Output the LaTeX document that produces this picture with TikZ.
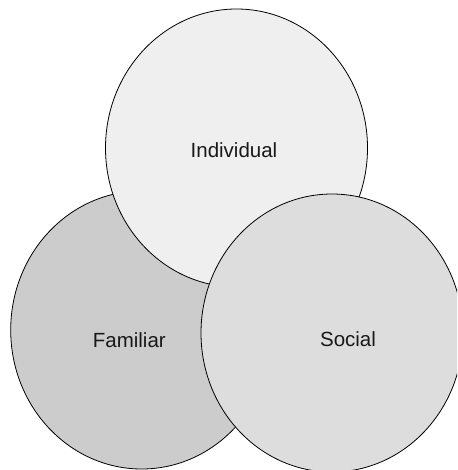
\documentclass[tikz,border=0pt]{standalone}
\usepackage{fontspec}
\setmainfont{Liberation Sans}
\usetikzlibrary{shapes.geometric}
\definecolor{indfill}{HTML}{EFEFEF}
\definecolor{famfill}{HTML}{CCCCCC}
\definecolor{socfill}{HTML}{DDDDDD}
\tikzset{
  sphere/.style={ellipse, draw=black, line width=0.8pt, inner sep=0pt,
                 minimum width=262pt, minimum height=278pt},
  caption/.style={anchor=base, font=\fontsize{20.5}{24}\selectfont, text=black!90}
}
\begin{document}
\begin{tikzpicture}[x=1pt,y=-1pt]
  \useasboundingbox (0,0) rectangle (457,470);
  \clip (0,0) rectangle (457,470);
  % three overlapping spheres, back to front
  \node[sphere, fill=famfill] (familiar) at (141.7,330) {};
  \node[sphere, fill=indfill] (individual) at (236.5,148) {};
  \node[sphere, fill=socfill] (social) at (332,333) {};
  % labels
  \node[caption] (tind) at (234,157.3) {Individual};
  \node[caption] (tfam) at (129.3,347.3) {Familiar};
  \node[caption] (tsoc) at (348,346.7) {Social};
\end{tikzpicture}
\end{document}
